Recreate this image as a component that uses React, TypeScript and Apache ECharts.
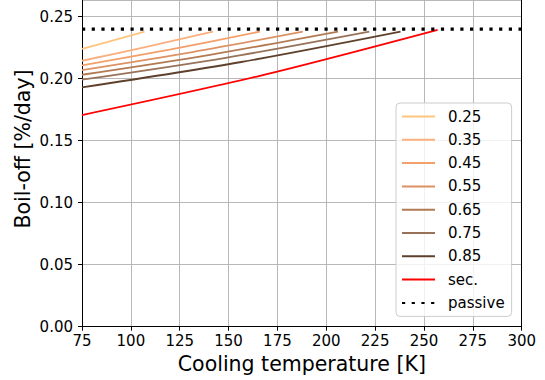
import React, { useEffect, useRef } from "react";
import * as echarts from "echarts";

const seriesNames = ["0.25", "0.35", "0.45", "0.55", "0.65", "0.75", "0.85", "sec."];
const seriesColors = ["#fec57c", "#fab07e", "#f4a06b", "#dc9264", "#b27a53", "#987259", "#5e412c", "#ff0000"];
// [temperature K, boil-off %/day]
const curve025 = [[75, 0.224], [91, 0.2309], [107, 0.238]];
const curve035 = [[75, 0.2145], [108.5, 0.2259], [142, 0.238]];
const curve045 = [[75, 0.2107], [120.5, 0.2237], [166, 0.238]];
const curve055 = [[75, 0.207], [131.5, 0.2215], [188, 0.238]];
const curve065 = [[75, 0.2032], [140.5, 0.2193], [206, 0.238]];
const curve075 = [[75, 0.1992], [148.5, 0.2169], [222, 0.238]];
const curve085 = [[75, 0.193], [156.5, 0.2135], [238, 0.238]];
const curveSec = [[75, 0.1707], [166, 0.2024], [257, 0.2395]];
const passive = [[75, 0.24], [300, 0.24]];
const curves = [curve025, curve035, curve045, curve055, curve065, curve075, curve085, curveSec];

const xTicks = { min: 75, max: 300, interval: 25 };
const yTicks = { min: 0, max: 0.2635, interval: 0.05 };

const FONT = "DejaVu Sans";

export default function App() {
  const ref = useRef<HTMLDivElement>(null);
  useEffect(() => {
    if (!ref.current) return;
    const chart = echarts.init(ref.current, null, { renderer: "svg" });
    const lineSeries: any[] = curves.map((d, i) => ({
      name: seriesNames[i],
      type: "line",
      data: d,
      showSymbol: false,
      symbol: "none",
      smooth: 0.3,
      lineStyle: { color: seriesColors[i], width: 1.8 },
      itemStyle: { color: seriesColors[i] },
      z: 3,
    }));
    lineSeries.push({
      name: "passive",
      type: "line",
      data: passive,
      showSymbol: false,
      symbol: "none",
      lineStyle: { color: "#000", width: 3.2, type: [3.2, 6.5], cap: "butt" },
      itemStyle: { color: "#000" },
      z: 4,
    });
    chart.setOption({
      animation: false,
      textStyle: { fontFamily: FONT },
      grid: { left: 82, right: 23.3, top: 0, bottom: 53.3, containLabel: false },
      graphic: [
        {
          type: "text",
          x: 23,
          y: 149,
          rotation: Math.PI / 2,
          style: {
            text: "Boil-off [%/day]",
            fontSize: 20.5,
            fontFamily: FONT,
            fill: "#000",
            align: "center",
            verticalAlign: "middle",
          },
        },
      ],
      xAxis: {
        type: "value",
        min: xTicks.min,
        max: xTicks.max,
        interval: xTicks.interval,
        name: "Cooling temperature [K]",
        nameLocation: "middle",
        nameGap: 26,
        nameTextStyle: { fontSize: 20.5, color: "#000", fontFamily: FONT },
        axisLine: { show: true, onZero: false, lineStyle: { color: "#000", width: 1 } },
        axisTick: { show: true, length: 4, lineStyle: { color: "#000" } },
        axisLabel: { fontSize: 15, color: "#000", margin: 7, fontFamily: FONT },
        splitLine: { show: true, lineStyle: { color: "#b0b0b0", width: 0.9 } },
      },
      yAxis: [
        {
          type: "value",
          min: yTicks.min,
          max: yTicks.max,
          interval: yTicks.interval,
          axisLine: { show: true, onZero: false, lineStyle: { color: "#000", width: 1 } },
          axisTick: { show: true, length: 4, lineStyle: { color: "#000" } },
          axisLabel: {
            fontSize: 15,
            color: "#000",
            margin: 9,
            fontFamily: FONT,
            showMaxLabel: false,
            formatter: (v: number) => v.toFixed(2),
          },
          splitLine: { show: true, lineStyle: { color: "#b0b0b0", width: 0.9 } },
        },
        {
          type: "value",
          position: "right",
          min: yTicks.min,
          max: yTicks.max,
          interval: yTicks.interval,
          axisLine: { show: true, lineStyle: { color: "#000", width: 1 } },
          axisTick: { show: false },
          axisLabel: { show: false },
          splitLine: { show: false },
        },
      ],
      legend: {
        orient: "vertical",
        left: 396,
        top: 103,
        padding: [6, 7, 6, 5],
        itemWidth: 33,
        itemHeight: 14,
        itemGap: 8.3,
        backgroundColor: "rgba(255,255,255,0.8)",
        borderColor: "#cccccc",
        borderWidth: 1,
        borderRadius: 4,
        itemStyle: { opacity: 0 },
        textStyle: { fontSize: 15, color: "#000", fontFamily: FONT, padding: [0, 0, 0, 8] },
        data: [...seriesNames, "passive"],
      },
      series: lineSeries,
    });
    return () => chart.dispose();
  }, []);
  return <div ref={ref} style={{ width: 545, height: 380, position: "absolute", left: 0, top: 0 }} />;
}
